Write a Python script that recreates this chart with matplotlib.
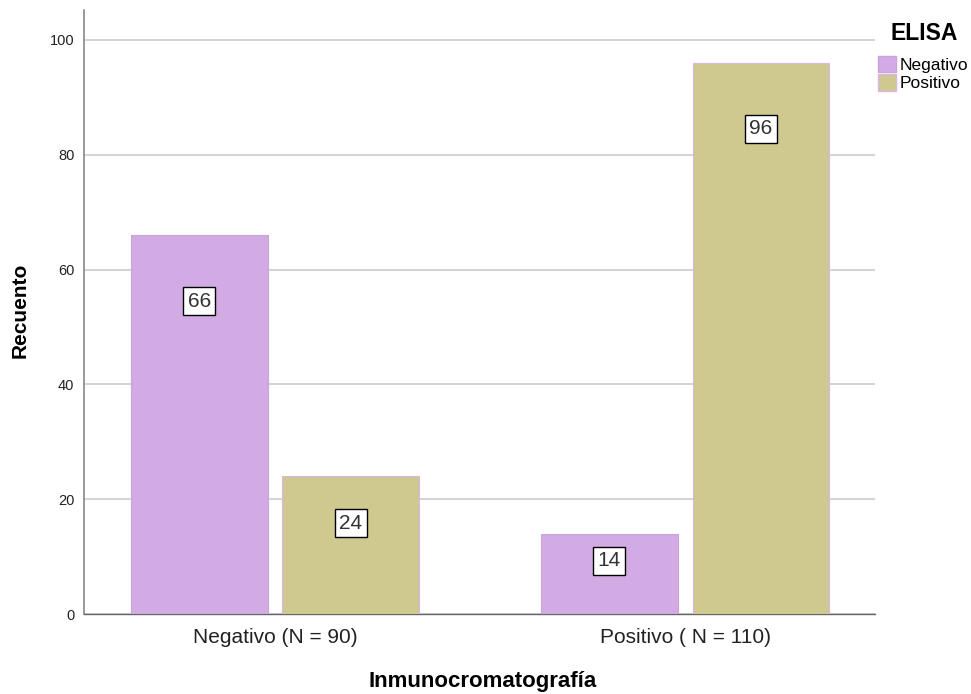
import numpy as np
import matplotlib.pyplot as plt
from matplotlib.patches import Patch

plt.rcParams['font.family'] = ['Liberation Sans', 'DejaVu Sans']

# Conteos por grupo de inmunocromatografía y resultado ELISA
groups = ['Negativo (N = 90)', 'Positivo ( N = 110)']
elisa = ['Negativo', 'Positivo']
counts_neg = [66, 14]
counts_pos = [24, 96]
yticks = [0, 20, 40, 60, 80, 100]

col_neg = '#D2ABE4'
col_pos = '#CFC98F'

fig = plt.figure(figsize=(9.71, 6.94), dpi=100)
ax = fig.add_axes([84 / 971, 80 / 694, 791 / 971, 604 / 694])

x = np.arange(len(groups))
w = 0.334
off = 0.185
b1 = ax.bar(x - off, counts_neg, w, color=col_neg, edgecolor='#C9A3DC', linewidth=0.8, zorder=3)
b2 = ax.bar(x + off, counts_pos, w, color=col_pos, edgecolor='#D8B6E6', linewidth=0.8, zorder=3)

# etiquetas con el valor dentro de cada barra
for bars, vals in [(b1, counts_neg), (b2, counts_pos)]:
    for r, v in zip(bars, vals):
        ypos = max(v - 11.5, v * 0.66)
        ax.text(r.get_x() + r.get_width() / 2, ypos, str(v), ha='center', va='center',
                fontsize=15, color='#333333', zorder=4,
                bbox=dict(boxstyle='square,pad=0.21', facecolor='white', edgecolor='black', linewidth=1.0))

ax.set_xlim(-0.466, 1.463)
ax.set_ylim(0, 105.2)
ax.set_yticks(yticks)
ax.set_xticks(x)
ax.set_xticklabels(groups, fontsize=15, color='#222222')
ax.tick_params(axis='y', length=0, pad=7, labelsize=10.5, labelcolor='#222222')
ax.tick_params(axis='x', length=0, pad=10)
ax.yaxis.grid(True, color='#CCCCCC', linewidth=1.2, zorder=0)
ax.set_axisbelow(True)

for s in ['top', 'right']:
    ax.spines[s].set_visible(False)
ax.spines['left'].set_color('#888888')
ax.spines['bottom'].set_color('#666666')
ax.spines['left'].set_linewidth(1.2)
ax.spines['bottom'].set_linewidth(1.0)

fig.text(20 / 971, 1 - 310 / 694, 'Recuento', rotation=90, ha='center', va='center',
         fontsize=15, fontweight='bold')
fig.text(483 / 971, 2 / 694, 'Inmunocromatografía', ha='center', va='bottom',
         fontsize=16, fontweight='bold')

# leyenda
fig.text(890 / 971, 1 - 33 / 694, 'ELISA', ha='left', va='center', fontsize=16.5, fontweight='bold')
handles = [Patch(facecolor=col_neg, edgecolor='#C9A3DC'), Patch(facecolor=col_pos, edgecolor='#D8B6E6')]
fig.legend(handles, elisa, loc='upper left', bbox_to_anchor=(876 / 971, 1 - 54 / 694),
           frameon=False, fontsize=12.5, handlelength=1.05, handleheight=1.05,
           handletextpad=0.2, labelspacing=0.1, borderpad=0.1, borderaxespad=0)

fig.savefig('out.png', dpi=100)
